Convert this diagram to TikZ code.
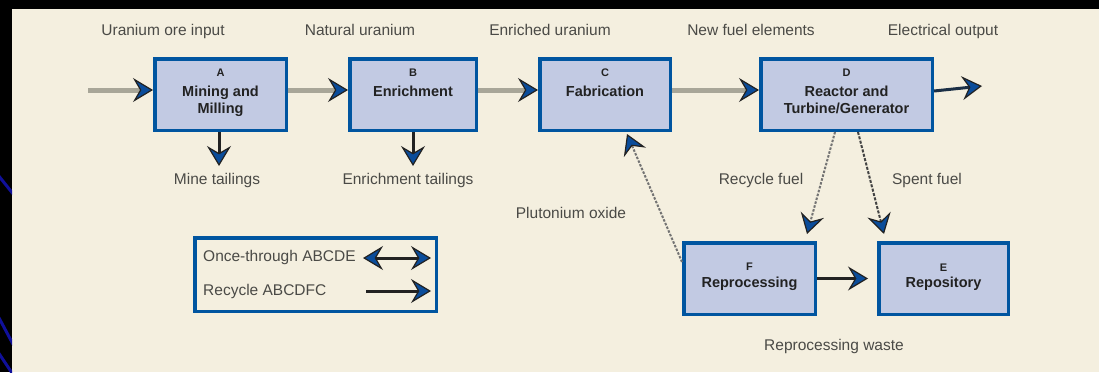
\documentclass[tikz,border=0pt]{standalone}
\usepackage{fontspec}
\setmainfont{Liberation Sans}
\usetikzlibrary{arrows.meta}
\definecolor{cream}{HTML}{F4EFDF}
\definecolor{boxfill}{HTML}{C2CAE3}
\definecolor{boxblue}{HTML}{0055A0}
\definecolor{flowgray}{HTML}{A8A698}
\definecolor{headblue}{HTML}{0A4C9A}
\definecolor{ink}{HTML}{222222}
\definecolor{labgray}{HTML}{4A4A46}
\definecolor{diagblue}{HTML}{10109A}
\begin{document}
\begin{tikzpicture}[x=1pt,y=-1pt,
  >={Stealth[length=20pt,width=24pt,inset=7pt,color=ink,fill=headblue,line width=1.2pt]},
  box/.style={draw=boxblue, fill=boxfill, line width=3.5pt, inner sep=0pt},
  legendbox/.style={draw=boxblue, line width=3.5pt, inner sep=0pt},
  lab/.style={font=\fontsize{15.5}{18}\selectfont, text=labgray, anchor=base, inner sep=0pt},
  ttl/.style={font=\bfseries\fontsize{14.5}{17}\selectfont, text=ink, anchor=base, inner sep=0pt},
  ltr/.style={font=\bfseries\fontsize{11}{13}\selectfont, text=ink, anchor=base, inner sep=0pt},
  flow/.style={draw=flowgray, line width=5pt, ->},
  darrow/.style={draw=ink, line width=3pt, ->},
  outarrow/.style={draw=ink!70!headblue, line width=3pt, ->},
  dotline/.style={draw=black!55, line width=2pt, dash pattern=on 2.5pt off 1.5pt, ->},
  dotdark/.style={draw=ink!85, line width=2pt, dash pattern=on 3pt off 1.5pt, ->},
  diag/.style={draw=diagblue, line width=3pt}
]
\useasboundingbox (0,0) rectangle (1099,372);
\fill[black] (0,0) rectangle (1099,372);
\fill[cream] (12,9) rectangle (1099,372);
\begin{scope}
  \clip (0,9) rectangle (12,372);
  \draw[diag] (-2,175) -- (14,195);
  \draw[diag] (-2,316) -- (14,346);
  \draw[diag] (-2,352) -- (14,376);
\end{scope}

% boxes
\node[box, minimum width=131.5pt, minimum height=71.5pt] (A) at (220.5,94.5) {};
\node[box, minimum width=126.5pt, minimum height=71.5pt] (B) at (413,94.5) {};
\node[box, minimum width=130.5pt, minimum height=71.5pt] (C) at (605,94.5) {};
\node[box, minimum width=171.5pt, minimum height=71.5pt] (D) at (846.5,94.5) {};
\node[box, minimum width=131.5pt, minimum height=71.5pt] (F) at (749.5,278.5) {};
\node[box, minimum width=129.5pt, minimum height=71.5pt] (E) at (943.5,278.5) {};
\node[legendbox, minimum width=241.5pt, minimum height=73.5pt] (L) at (315.5,274.5) {};

% box texts
\node[ltr] (A0) at (220.5,76) {A};
\node[ttl] (A1) at (220.5,96) {Mining and};
\node[ttl] (A2) at (220.5,113) {Milling};
\node[ltr] (B0) at (413,76) {B};
\node[ttl] (B1) at (413,96) {Enrichment};
\node[ltr] (C0) at (605,76) {C};
\node[ttl] (C1) at (605,96) {Fabrication};
\node[ltr] (D0) at (846.5,76) {D};
\node[ttl] (D1) at (846.5,96) {Reactor and};
\node[ttl] (D2) at (846.5,113) {Turbine/Generator};
\node[ltr] (F0) at (749.5,270) {F};
\node[ttl] (F1) at (749.5,287) {Reprocessing};
\node[ltr] (E0) at (943.5,271) {E};
\node[ttl] (E1) at (943.5,287) {Repository};

% labels
\node[lab] (t1) at (163,35) {Uranium ore input};
\node[lab] (t2) at (360,35) {Natural uranium};
\node[lab] (t3) at (550,35) {Enriched uranium};
\node[lab] (t4) at (751,35) {New fuel elements};
\node[lab] (t5) at (943,35) {Electrical output};
\node[lab] (b1) at (217,184) {Mine tailings};
\node[lab] (b2) at (408,184) {Enrichment tailings};
\node[lab] (b3) at (761,184) {Recycle fuel};
\node[lab] (b4) at (927,184) {Spent fuel};
\node[lab] (b5) at (571,218) {Plutonium oxide};
\node[lab] (b6) at (834,350) {Reprocessing waste};
\node[lab, anchor=base west] (l1) at (203,261) {Once-through ABCDE};
\node[lab, anchor=base west] (l2) at (203,295) {Recycle ABCDFC};

% coordinates
\coordinate (in) at (88,90);
\coordinate (out) at (982,86);
\coordinate (mt) at (219,166);
\coordinate (et) at (413,166);
\coordinate (rf) at (807,234);
\coordinate (sf) at (884,234);
\coordinate (po) at (627,134);
\coordinate (la) at (363,258);
\coordinate (lb) at (431,258);
\coordinate (lc) at (366,291);
\coordinate (ld) at (431,291);

% flows
\draw[flow] (in) -- (in -| A.west);
\draw[flow] (A.east |- in) -- (B.west |- in);
\draw[flow] (B.east |- in) -- (C.west |- in);
\draw[flow] (C.east |- in) -- (D.west |- in);
\draw[outarrow] ([yshift=3.5pt]D.east) -- (out);
\draw[darrow] (A.south -| mt) -- (mt);
\draw[darrow] (B.south -| et) -- (et);
\draw[dotline] ([xshift=-11.5pt]D.south) -- (rf);
\draw[dotdark] ([xshift=11.5pt]D.south) -- (sf);
\draw[dotline] ([yshift=16.5pt]F.west) -- (po);
\draw[darrow, shorten >=9pt] (F.east) -- (E.west);
\draw[darrow, <->] (la) -- (lb);
\draw[darrow] (lc) -- (ld);
\end{tikzpicture}
\end{document}
